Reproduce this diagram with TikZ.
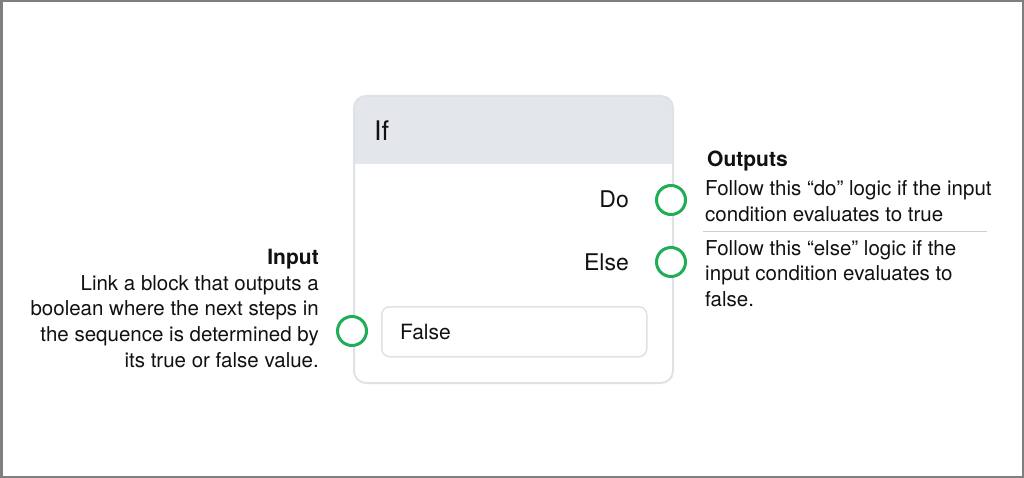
\documentclass[tikz,border=0pt]{standalone}
\usepackage{fontspec}
\setmainfont{TeX Gyre Heros}
\definecolor{frameg}{HTML}{7F7F7F}
\definecolor{headg}{HTML}{E3E7EC}
\definecolor{bordg}{HTML}{DEE2E7}
\definecolor{portg}{HTML}{1FAE55}
\definecolor{sepg}{HTML}{CFCFCF}
\definecolor{txt}{HTML}{111111}
\tikzset{
  port/.style={circle, draw=portg, line width=3pt, minimum size=29pt, inner sep=0pt, fill=white},
  lbl/.style={inner sep=0pt, text=txt, font=\fontsize{23}{25}\selectfont},
  body/.style={inner sep=0pt, text=txt, font=\fontsize{20.5}{25.8}\selectfont},
  head/.style={inner sep=0pt, text=txt, font=\fontsize{21}{25.8}\selectfont\bfseries},
}
\begin{document}
\begin{tikzpicture}[x=1pt,y=-1pt]
\useasboundingbox (0,0) rectangle (1024,478);
\draw[frameg, line width=2.5pt] (1.25,1.25) rectangle (1022.75,476.75);
% block
\begin{scope}
\clip[rounded corners=12pt] (354,96) rectangle (673,383);
\fill[headg] (354,96) rectangle (673,164);
\end{scope}
\draw[bordg, line width=2pt, rounded corners=12pt] (354,96) rectangle (673,383);
\node[lbl, anchor=base west, font=\fontsize{27}{30}\selectfont] (iftxt) at (374,141) {If};
\node[lbl, anchor=base east] (dotxt) at (629,208) {Do};
\node[lbl, anchor=base east] (elsetxt) at (629,270) {Else};
\node[draw=bordg, line width=1.5pt, rounded corners=8pt, minimum width=265pt, minimum height=50pt, anchor=north west] (falsebox) at (381,306) {};
\node[body, anchor=base west, font=\fontsize{21}{25}\selectfont] (falsetxt) at (400,339.5) {False};
\node[port] (pdo) at (671,200) {};
\node[port] (pelse) at (671,262) {};
\node[port] (pin) at (352,331) {};
% outputs
\node[head, anchor=base west] (outh) at (707,166.5) {Outputs};
\node[body, anchor=base west, align=left] (dotext) at (705,221.8) {Follow this “do” logic if the input\\condition evaluates to true};
\coordinate (sepl) at (703,232);
\coordinate (sepr) at (987,232);
\draw[sepg, line width=1pt] (sepl) -- (sepr);
\node[body, anchor=base west, align=left] (elsetext) at (705,306.6) {Follow this “else” logic if the\\input condition evaluates to\\false.};
% input
\node[head, anchor=base east] (inh) at (319,264.5) {Input};
\node[body, anchor=base east, align=right] (intext) at (319,367.4) {Link a block that outputs a\\boolean where the next steps in\\the sequence is determined by\\its true or false value.};
\end{tikzpicture}
\end{document}
